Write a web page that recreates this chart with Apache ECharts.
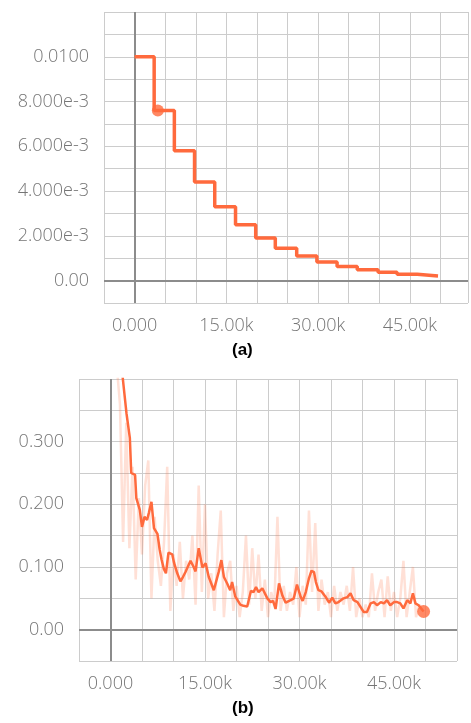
<!DOCTYPE html>
<html>
<head>
<meta charset="utf-8">
<script src="https://cdn.jsdelivr.net/npm/echarts@6/dist/echarts.min.js"></script>
<style>
html,body{margin:0;padding:0;background:#fff;}
#chart{width:471px;height:723px;}
</style>
</head>
<body>
<div id="chart"></div>
<script>
// ---- (a) learning-rate step curve ----
const lrSteps  = [0, 3200, 6500, 9800, 13100, 16500, 19800, 23000, 26500, 29800, 33100, 36400, 39800, 42900, 46200, 49600];
const lrValues = [0.0100, 0.0076, 0.0058, 0.0044, 0.0033, 0.0025, 0.0019, 0.00145, 0.0011, 0.00083, 0.00063, 0.00048, 0.00037, 0.00028, 0.00021, 0.00021];
const lrMarker = [3800, 0.0076];
const aYTickValues = [0, 0.002, 0.004, 0.006, 0.008, 0.010];
const aYTickLabels = ['0.00', '2.000e-3', '4.000e-3', '6.000e-3', '8.000e-3', '0.0100'];

// ---- (b) loss curve ----
const lossSteps  = [500, 1000, 1500, 1970, 2540, 3070, 3290, 3900, 4100, 4650, 5000, 5400, 5800, 6080, 6500, 6900, 7450, 7800, 8100, 8470, 8800, 9200, 9800, 10100, 10600, 11100, 11500, 11900, 12700, 13200, 13500, 14000, 14600, 15100, 15600, 16400, 17200, 17600, 18000, 18500, 19000, 19300, 19800, 20600, 21100, 21700, 22300, 22700, 23100, 23500, 24100, 24300, 24900, 25400, 25800, 26200, 26750, 27300, 27800, 28600, 29100, 29600, 30200, 30500, 31000, 31500, 31900, 32300, 32600, 33000, 33500, 34100, 34700, 35200, 35700, 36200, 37000, 37600, 38100, 38600, 39200, 39700, 40200, 40700, 41300, 41800, 42300, 42900, 43400, 43900, 44400, 45000, 45500, 46000, 46500, 47100, 47600, 48000, 48400, 48900, 49700];
const lossSmooth = [0.56, 0.50, 0.45, 0.399, 0.345, 0.306, 0.250, 0.247, 0.210, 0.191, 0.164, 0.180, 0.175, 0.186, 0.204, 0.162, 0.153, 0.128, 0.112, 0.097, 0.090, 0.123, 0.120, 0.106, 0.090, 0.077, 0.084, 0.092, 0.110, 0.100, 0.093, 0.130, 0.099, 0.106, 0.084, 0.063, 0.093, 0.111, 0.084, 0.074, 0.063, 0.076, 0.053, 0.040, 0.038, 0.037, 0.062, 0.060, 0.068, 0.060, 0.066, 0.064, 0.050, 0.044, 0.046, 0.033, 0.074, 0.054, 0.043, 0.047, 0.050, 0.072, 0.052, 0.046, 0.060, 0.082, 0.094, 0.092, 0.076, 0.063, 0.061, 0.053, 0.043, 0.051, 0.042, 0.044, 0.050, 0.052, 0.058, 0.047, 0.044, 0.036, 0.028, 0.028, 0.042, 0.044, 0.039, 0.044, 0.042, 0.047, 0.039, 0.044, 0.044, 0.042, 0.034, 0.047, 0.042, 0.058, 0.042, 0.039, 0.029];
const rawSteps  = [500, 1000, 1500, 2000, 2500, 3000, 3500, 4000, 4500, 5000, 5500, 6000, 6500, 7000, 7500, 8000, 8500, 9000, 9500, 10000, 10500, 11000, 11500, 12000, 12500, 13000, 13500, 14000, 14500, 15000, 15500, 16000, 16500, 17000, 17500, 18000, 18500, 19000, 19500, 20000, 20500, 21000, 21500, 22000, 22500, 23000, 23500, 24000, 24500, 25000, 25500, 26000, 26500, 27000, 27500, 28000, 28500, 29000, 29500, 30000, 30500, 31000, 31500, 32000, 32500, 33000, 33500, 34000, 34500, 35000, 35500, 36000, 36500, 37000, 37500, 38000, 38500, 39000, 39500, 40000, 40500, 41000, 41500, 42000, 42500, 43000, 43500, 44000, 44500, 45000, 45500, 46000, 46500, 47000, 47500, 48000, 48500, 49000, 49500];
const rawValues = [0.58, 0.42, 0.36, 0.14, 0.33, 0.13, 0.26, 0.08, 0.21, 0.12, 0.23, 0.27, 0.05, 0.18, 0.11, 0.07, 0.14, 0.26, 0.03, 0.12, 0.07, 0.14, 0.05, 0.11, 0.08, 0.15, 0.04, 0.23, 0.06, 0.20, 0.05, 0.09, 0.03, 0.12, 0.19, 0.02, 0.09, 0.11, 0.03, 0.07, 0.02, 0.06, 0.15, 0.04, 0.13, 0.05, 0.12, 0.03, 0.08, 0.02, 0.06, 0.04, 0.18, 0.03, 0.07, 0.03, 0.06, 0.04, 0.10, 0.02, 0.07, 0.04, 0.19, 0.06, 0.17, 0.03, 0.08, 0.04, 0.06, 0.02, 0.07, 0.03, 0.06, 0.04, 0.07, 0.03, 0.10, 0.02, 0.05, 0.02, 0.04, 0.02, 0.09, 0.03, 0.06, 0.08, 0.02, 0.085, 0.03, 0.06, 0.02, 0.05, 0.11, 0.02, 0.06, 0.10, 0.02, 0.04, 0.03];
const lossMarker = [49700, 0.029];
const bYTickValues = [0, 0.1, 0.2, 0.3];
const bYTickLabels = ['0.00', '0.100', '0.200', '0.300'];

// shared x tick labels
const xTickValues = [0, 15000, 30000, 45000];
const xTickLabels = ['0.000', '15.00k', '30.00k', '45.00k'];

const ORANGE = '#ff6a3d';
const GRID_C = '#cccccc';
const ZERO_C = '#8c8c8c';
const FONT = "'Open Sans', 'Noto Sans', sans-serif";
const labelStyle = {color: '#757575', fontSize: 18, fontFamily: FONT, fontWeight: 300};

function lookup(vals, labels, v, eps) {
  for (let i = 0; i < vals.length; i++) if (Math.abs(vals[i] - v) < eps) return labels[i];
  return '';
}

function xAxisCfg(gridIndex, max) {
  return {
    type: 'value', gridIndex: gridIndex, min: -5000, max: max, interval: 5000,
    axisLine: {show: false},
    axisTick: {show: true, length: 6, lineStyle: {color: GRID_C, width: 1}},
    splitLine: {show: true, lineStyle: {color: GRID_C, width: 1}},
    axisLabel: Object.assign({margin: 14, showMinLabel: true, showMaxLabel: false,
      formatter: v => lookup(xTickValues, xTickLabels, v, 1)}, labelStyle)
  };
}

const chart = echarts.init(document.getElementById('chart'), null, {renderer: 'canvas'});
chart.setOption({
  animation: false,
  backgroundColor: '#fff',
  grid: [
    {left: 104, top: 12, right: 3, height: 291, containLabel: false},
    {left: 79, top: 379, right: 14, height: 282, containLabel: false}
  ],
  xAxis: [xAxisCfg(0, 54500), xAxisCfg(1, 55000)],
  yAxis: [
    {
      type: 'value', gridIndex: 0, min: -0.001, max: 0.012, interval: 0.001,
      axisLine: {show: false},
      axisTick: {show: true, length: 7, lineStyle: {color: GRID_C, width: 1}},
      splitLine: {show: true, lineStyle: {color: GRID_C, width: 1}},
      axisLabel: Object.assign({margin: 15, formatter: v => lookup(aYTickValues, aYTickLabels, v, 1e-7)}, labelStyle)
    },
    {
      type: 'value', gridIndex: 1, min: -0.05, max: 0.4, interval: 0.05,
      axisLine: {show: false},
      axisTick: {show: true, length: 7, lineStyle: {color: GRID_C, width: 1}},
      splitLine: {show: true, lineStyle: {color: GRID_C, width: 1}},
      axisLabel: Object.assign({margin: 15, formatter: v => lookup(bYTickValues, bYTickLabels, v, 1e-6)}, labelStyle)
    }
  ],
  series: [
    {
      type: 'line', xAxisIndex: 0, yAxisIndex: 0, step: 'end', showSymbol: false, z: 3,
      lineStyle: {color: ORANGE, width: 3.5},
      data: lrSteps.map((s, i) => [s, lrValues[i]]),
      markLine: {silent: true, symbol: ['none', 'none'], z: 1, label: {show: false},
        lineStyle: {color: ZERO_C, width: 2, type: 'solid'},
        emphasis: {disabled: true},
        data: [{xAxis: 0}, {yAxis: 0}]}
    },
    {
      type: 'scatter', xAxisIndex: 0, yAxisIndex: 0, symbolSize: 12, z: 4,
      itemStyle: {color: ORANGE},
      data: [lrMarker]
    },
    {
      type: 'line', xAxisIndex: 1, yAxisIndex: 1, showSymbol: false, z: 2,
      lineStyle: {color: 'rgba(255,112,67,0.22)', width: 2.5},
      data: rawSteps.map((s, i) => [s, rawValues[i]]),
      markLine: {silent: true, symbol: ['none', 'none'], z: 1, label: {show: false},
        lineStyle: {color: ZERO_C, width: 2, type: 'solid'},
        emphasis: {disabled: true},
        data: [{xAxis: 0}, {yAxis: 0}]}
    },
    {
      type: 'line', xAxisIndex: 1, yAxisIndex: 1, showSymbol: false, z: 3,
      lineStyle: {color: ORANGE, width: 2.5},
      data: lossSteps.map((s, i) => [s, lossSmooth[i]])
    },
    {
      type: 'scatter', xAxisIndex: 1, yAxisIndex: 1, symbolSize: 13, z: 4,
      itemStyle: {color: ORANGE},
      data: [lossMarker]
    }
  ],
  graphic: [
    {type: 'text', left: 232, top: 342, style: {text: '(a)', fontSize: 17, fontWeight: 'bold', fontFamily: "'Liberation Sans', Arial, sans-serif", fill: '#000'}},
    {type: 'text', left: 232, top: 700, style: {text: '(b)', fontSize: 17, fontWeight: 'bold', fontFamily: "'Liberation Sans', Arial, sans-serif", fill: '#000'}}
  ]
});
</script>
</body>
</html>
